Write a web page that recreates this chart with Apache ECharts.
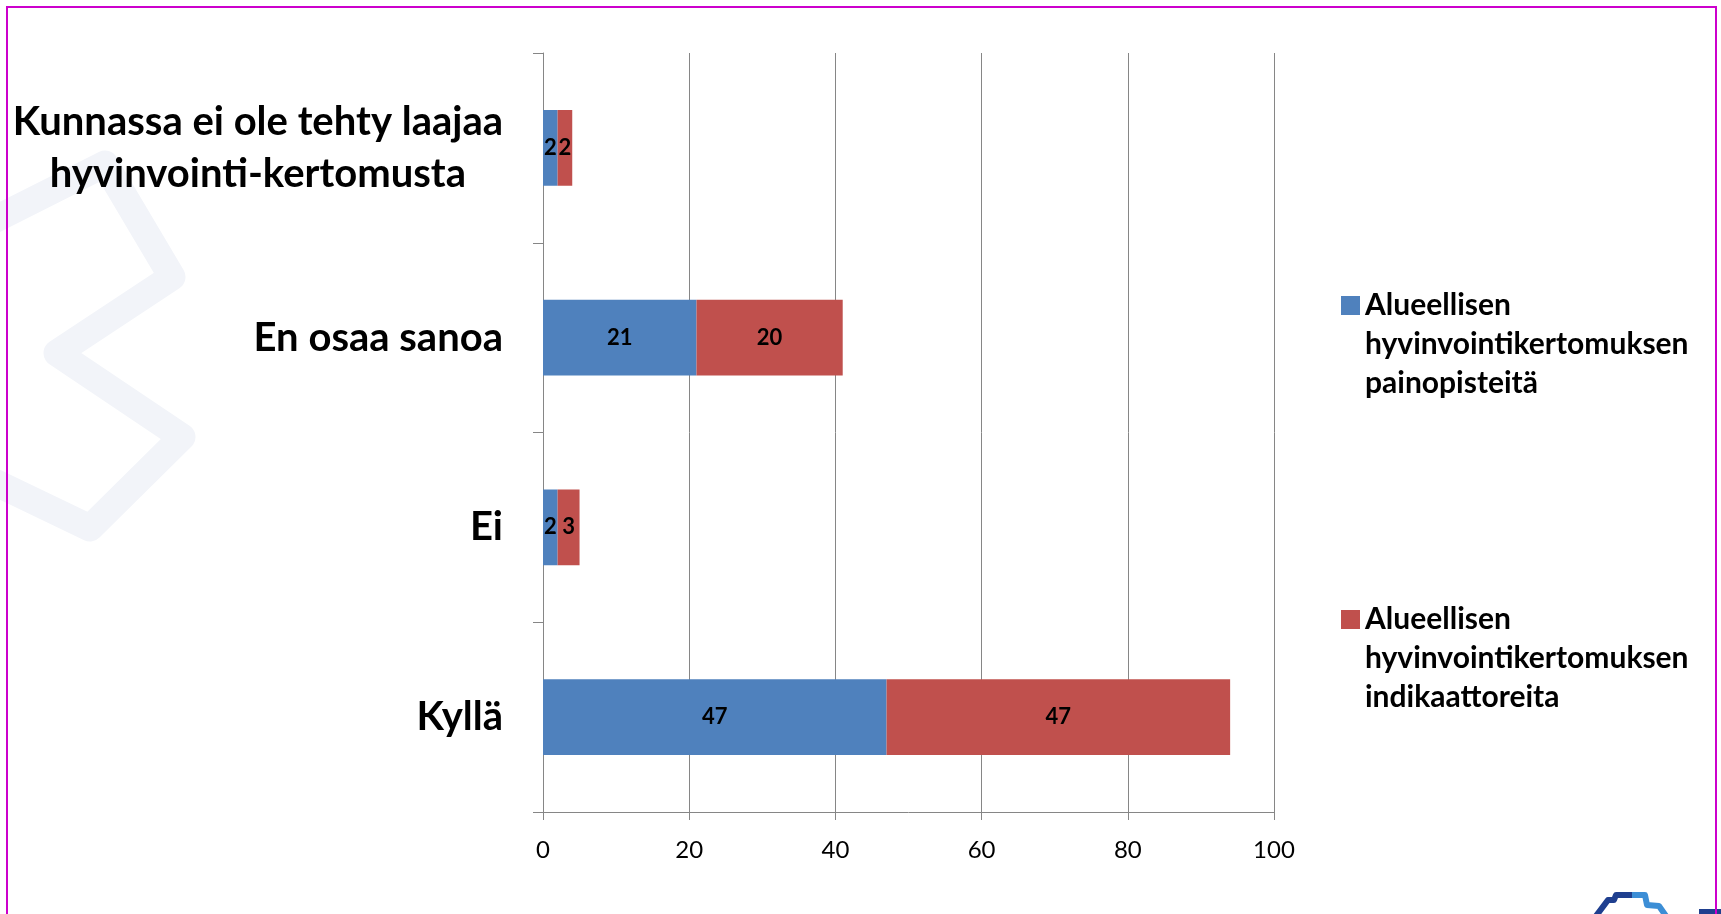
<!DOCTYPE html>
<html>
<head>
<meta charset="utf-8">
<script src="https://cdn.jsdelivr.net/npm/echarts@6/dist/echarts.min.js"></script>
<style>
  html, body { margin: 0; padding: 0; background: #fff; }
  #main { width: 1721px; height: 914px; }
</style>
</head>
<body>
<div id="main"></div>
<script>
  // data (bottom to top, as the category axis draws them)
  var categories = ['Kyllä', 'Ei', 'En osaa sanoa', 'Kunnassa ei ole tehty laajaa\nhyvinvointi-kertomusta'];
  var painopisteita = [47, 2, 21, 2];
  var indikaattoreita = [47, 3, 20, 2];
  var seriesNames = [
    'Alueellisen hyvinvointikertomuksen painopisteitä',
    'Alueellisen hyvinvointikertomuksen indikaattoreita'
  ];
  var xTicks = { min: 0, max: 100, interval: 20 };

  var FONT = 'Lato, "Open Sans", sans-serif';
  var myChart = echarts.init(document.getElementById('main'));

  var option = {
    backgroundColor: '#fff',
    animation: false,
    color: ['#4F81BD', '#C0504D'],
    textStyle: { fontFamily: FONT },
    grid: {
      left: 543,
      right: 447,
      top: 53,
      bottom: 102,
      containLabel: false
    },
    legend: {
      orient: 'vertical',
      left: 1341,
      top: 208,
      padding: 0,
      itemGap: 119,
      itemWidth: 19,
      itemHeight: 19,
      icon: 'rect',
      data: seriesNames,
      // two empty lines first so the marker sits next to the first line
      formatter: function (name) {
        return '\n\n' + name.split(' ').join('\n');
      },
      textStyle: {
        fontFamily: FONT,
        fontSize: 30,
        fontWeight: 'bold',
        color: '#000',
        lineHeight: 39
      }
    },
    xAxis: {
      type: 'value',
      min: xTicks.min,
      max: xTicks.max,
      interval: xTicks.interval,
      axisLine: { show: true, lineStyle: { color: '#868686', width: 1 } },
      axisTick: { show: true, length: 8, lineStyle: { color: '#868686' } },
      splitLine: { show: true, lineStyle: { color: '#868686', width: 1 } },
      axisLabel: {
        margin: 26,
        fontSize: 24,
        color: '#000',
        fontFamily: FONT
      }
    },
    yAxis: {
      type: 'category',
      data: categories,
      axisLine: { show: true, lineStyle: { color: '#868686', width: 1 } },
      axisTick: { show: true, length: 10, lineStyle: { color: '#868686' } },
      splitLine: { show: false },
      axisLabel: {
        margin: 40,
        formatter: function (v) {
          return v.split('\n').map(function (s) { return '{c|' + s + '}'; }).join('\n');
        },
        rich: {
          c: {
            align: 'center',
            fontFamily: FONT,
            fontSize: 40,
            fontWeight: 'bold',
            color: '#000',
            lineHeight: 52
          }
        }
      }
    },
    graphic: [
      {
        // faint watermark shape on the left
        type: 'polyline',
        z: -100,
        silent: true,
        shape: {
          points: [[-10, 222], [105, 164], [172, 277], [57, 353], [182, 437], [90, 528], [-10, 480]]
        },
        style: {
          stroke: '#f2f4f9',
          fill: null,
          lineWidth: 27,
          lineJoin: 'round',
          lineCap: 'round'
        }
      },
      {
        type: 'rect',
        z: 100,
        silent: true,
        shape: { x: 7, y: 7, width: 1709, height: 930 },
        style: { stroke: '#CC00CC', fill: null, lineWidth: 2 }
      },
      {
        // partial logo, bottom right corner
        type: 'polyline',
        silent: true,
        shape: { points: [[1596, 916], [1608, 900], [1614, 900], [1616, 895], [1632, 895]] },
        style: { stroke: '#1F3F8F', fill: null, lineWidth: 6, lineJoin: 'round' }
      },
      {
        type: 'polyline',
        silent: true,
        shape: { points: [[1632, 895], [1645, 895], [1647, 905], [1659, 906], [1666, 916]] },
        style: { stroke: '#3C8ED6', fill: null, lineWidth: 6, lineJoin: 'round' }
      },
      {
        type: 'rect',
        silent: true,
        shape: { x: 1699, y: 909, width: 22, height: 5 },
        style: { fill: '#1F3F8F' }
      }
    ],
    series: [
      {
        name: seriesNames[0],
        type: 'bar',
        stack: 'total',
        barCategoryGap: '60%',
        data: painopisteita,
        label: {
          show: true,
          position: 'inside',
          color: '#000',
          fontFamily: FONT,
          fontSize: 22,
          fontWeight: 'bold'
        }
      },
      {
        name: seriesNames[1],
        type: 'bar',
        stack: 'total',
        barCategoryGap: '60%',
        data: indikaattoreita,
        label: {
          show: true,
          position: 'inside',
          color: '#000',
          fontFamily: FONT,
          fontSize: 22,
          fontWeight: 'bold'
        }
      }
    ]
  };

  myChart.setOption(option);
  window.onresize = myChart.resize;
</script>
</body>
</html>
